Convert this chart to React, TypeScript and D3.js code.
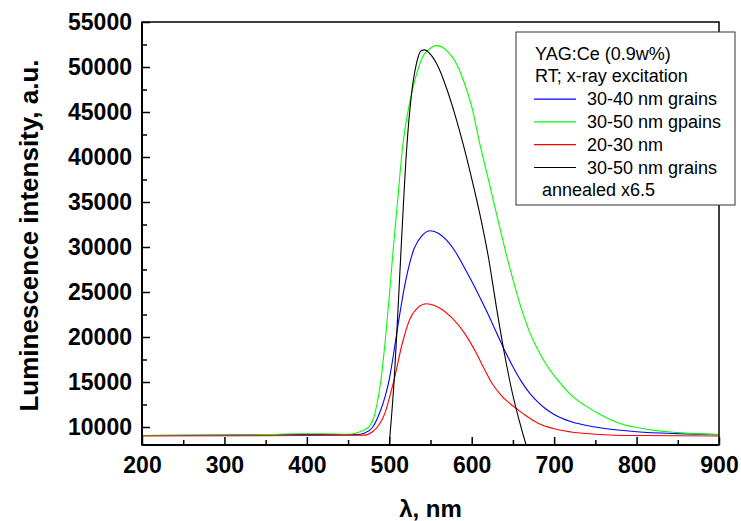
import React, { useEffect, useRef } from "react";
import * as d3 from "d3";

// wavelength grids and intensities
const blueWl = [200, 300, 400, 460, 471, 480, 488, 495, 500, 505, 510, 520, 530, 540, 550, 560, 570, 580, 590, 600, 610, 620, 630, 640, 650, 660, 670, 680, 690, 700, 720, 750, 800, 850, 900];
const blueVal = [9050, 9100, 9150, 9150, 9370, 10000, 11500, 13400, 15300, 18000, 21000, 26300, 29800, 31300, 31800, 31500, 30700, 29500, 27900, 26200, 24400, 22500, 20500, 18500, 16700, 15100, 13800, 12800, 12000, 11400, 10600, 10000, 9480, 9260, 9150];

const greenWl = [200, 300, 350, 390, 420, 450, 461, 470, 476, 481, 486, 490, 495, 500, 505, 510, 516, 524.6, 532.7, 540.5, 548.8, 557, 570, 580, 590, 600, 610, 620, 630, 640, 650, 660, 670, 680, 690, 700, 720, 750, 780, 800, 850, 900];
const greenVal = [9050, 9100, 9150, 9250, 9250, 9200, 9370, 9700, 10100, 11000, 13000, 15300, 19500, 24500, 30000, 35000, 41000, 46000, 49100, 51150, 52000, 52370, 51800, 50600, 48500, 45600, 41400, 37600, 33700, 29900, 26400, 23200, 20600, 18600, 17000, 15700, 13600, 11700, 10400, 9950, 9370, 9150];

const redWl = [200, 400, 470, 480, 488, 495, 500, 506, 515, 525, 535, 545, 555, 565, 575, 585, 595, 605, 615, 625, 635, 645, 655, 665, 680, 700, 720, 750, 800, 900];
const redVal = [9000, 9050, 9100, 9500, 10300, 11600, 13200, 15300, 19000, 22000, 23300, 23700, 23500, 23000, 22200, 21200, 19900, 18300, 16500, 14800, 13600, 12700, 12000, 11300, 10450, 9800, 9450, 9200, 9050, 9000];

const blackWl = [499, 500, 503, 506, 510, 515, 521, 526.6, 533, 538.7, 543, 550, 560, 570, 580, 590, 600, 610, 620, 630, 640, 650, 658, 666, 672];
const blackVal = [6500, 8000, 11500, 15300, 22000, 31000, 40800, 46700, 50400, 51800, 51900, 51400, 49900, 47500, 44600, 41300, 37600, 33600, 29000, 23300, 18000, 13500, 10600, 8000, 6200];

const xTicks = [200, 300, 400, 500, 600, 700, 800, 900];
const xMinor = [250, 350, 450, 550, 650, 750, 850];
const yTicks = [10000, 15000, 20000, 25000, 30000, 35000, 40000, 45000, 50000, 55000];
const yMinor = [12500, 17500, 22500, 27500, 32500, 37500, 42500, 47500, 52500];

const legendHeader = ["YAG:Ce (0.9w%)", "RT; x-ray excitation"];
const legendLabels = ["30-40 nm grains", "30-50 nm gpains", "20-30 nm", "30-50 nm grains"];
const legendColors = ["#0000ff", "#00ff00", "#ff0000", "#000000"];
const legendFooter = " annealed x6.5";

const FONT = "Arial, 'Liberation Sans', sans-serif";

const App = () => {
  const ref = useRef<SVGSVGElement>(null);

  useEffect(() => {
    const W = 741, H = 521;
    const margin = { top: 22, right: 22, bottom: 76, left: 142 };
    const width = W - margin.left - margin.right;
    const height = H - margin.top - margin.bottom;

    const root = d3.select(ref.current);
    root.selectAll("*").remove();

    const svg = root.append("g").attr("transform", `translate(${margin.left},${margin.top})`);

    const x = d3.scaleLinear().domain([200, 900]).range([0, width]);
    const y = d3.scaleLinear().domain([8000, 55000]).range([height, 0]);

    svg.append("clipPath").attr("id", "plotclip")
      .append("rect").attr("width", width).attr("height", height);

    const series = [
      { wl: blueWl, val: blueVal, color: legendColors[0] },
      { wl: greenWl, val: greenVal, color: legendColors[1] },
      { wl: redWl, val: redVal, color: legendColors[2] },
      { wl: blackWl, val: blackVal, color: legendColors[3] },
    ];

    const line = d3.line<[number, number]>()
      .x(d => x(d[0]))
      .y(d => y(d[1]))
      .curve(d3.curveMonotoneX);

    const lines = svg.append("g").attr("clip-path", "url(#plotclip)");
    series.forEach(s => {
      lines.append("path")
        .datum(s.wl.map((w, i) => [w, s.val[i]] as [number, number]))
        .attr("d", line)
        .attr("fill", "none")
        .attr("stroke", s.color)
        .attr("stroke-width", 1.1);
    });

    // axes, ticks pointing inside
    const styleAxis = (g) => {
      g.select(".domain").remove();
      g.selectAll("line").attr("stroke", "#000").attr("stroke-width", 1.5);
      g.attr("font-size", 23).attr("font-family", FONT).attr("font-weight", "bold");
      g.selectAll("text").attr("fill", "#000");
    };

    svg.append("g").attr("transform", `translate(0,${height})`)
      .call(d3.axisBottom(x).tickValues(xTicks).tickSize(-8).tickPadding(12).tickFormat(d3.format("d")))
      .call(styleAxis);
    svg.append("g").attr("transform", `translate(0,${height})`)
      .call(d3.axisBottom(x).tickValues(xMinor).tickSize(-5).tickFormat(() => ""))
      .call(styleAxis);

    svg.append("g")
      .call(d3.axisLeft(y).tickValues(yTicks).tickSize(-8).tickPadding(10).tickFormat(d3.format("d")))
      .call(styleAxis);
    svg.append("g")
      .call(d3.axisLeft(y).tickValues(yMinor).tickSize(-5).tickFormat(() => ""))
      .call(styleAxis);

    // frame
    svg.append("rect")
      .attr("width", width).attr("height", height)
      .attr("fill", "none").attr("stroke", "#000").attr("stroke-width", 1.5);
    svg.append("line").attr("x1", 0).attr("x2", 0).attr("y1", 0).attr("y2", height)
      .attr("stroke", "#000").attr("stroke-width", 2);
    svg.append("line").attr("x1", 0).attr("x2", width).attr("y1", height).attr("y2", height)
      .attr("stroke", "#000").attr("stroke-width", 2);

    // axis titles
    root.append("text")
      .attr("transform", `translate(38,${margin.top + height / 2 + 2}) rotate(-90)`)
      .attr("text-anchor", "middle")
      .attr("font-family", FONT).attr("font-weight", "bold").attr("font-size", 26)
      .text("Luminescence intensity, a.u.");

    root.append("text")
      .attr("x", margin.left + width / 2).attr("y", 517)
      .attr("text-anchor", "middle")
      .attr("font-family", FONT).attr("font-weight", "bold").attr("font-size", 24)
      .text("λ, nm");

    // legend box
    const lg = root.append("g").attr("transform", "translate(516,32)");
    lg.append("rect").attr("width", 219).attr("height", 173)
      .attr("fill", "#fff").attr("stroke", "#333").attr("stroke-width", 1);
    const rowH = 22.8, base = 27.5;
    const rows = [...legendHeader, ...legendLabels, legendFooter];
    rows.forEach((t, i) => {
      const isEntry = i >= 2 && i < 2 + legendLabels.length;
      const tx = isEntry ? 71 : (i === rows.length - 1 ? 21 : 19);
      lg.append("text")
        .attr("x", tx).attr("y", base + i * rowH)
        .attr("font-family", FONT).attr("font-size", 18)
        .attr("xml:space", "preserve")
        .text(t);
      if (isEntry) {
        lg.append("line")
          .attr("x1", 18).attr("x2", 60)
          .attr("y1", base + i * rowH - 6).attr("y2", base + i * rowH - 6)
          .attr("stroke", legendColors[i - 2]).attr("stroke-width", 1.2);
      }
    });
  }, []);

  return (
    <svg ref={ref} width={741} height={521}
      style={{ position: "absolute", left: 0, top: 0, background: "#fff" }} />
  );
};

export default App;
